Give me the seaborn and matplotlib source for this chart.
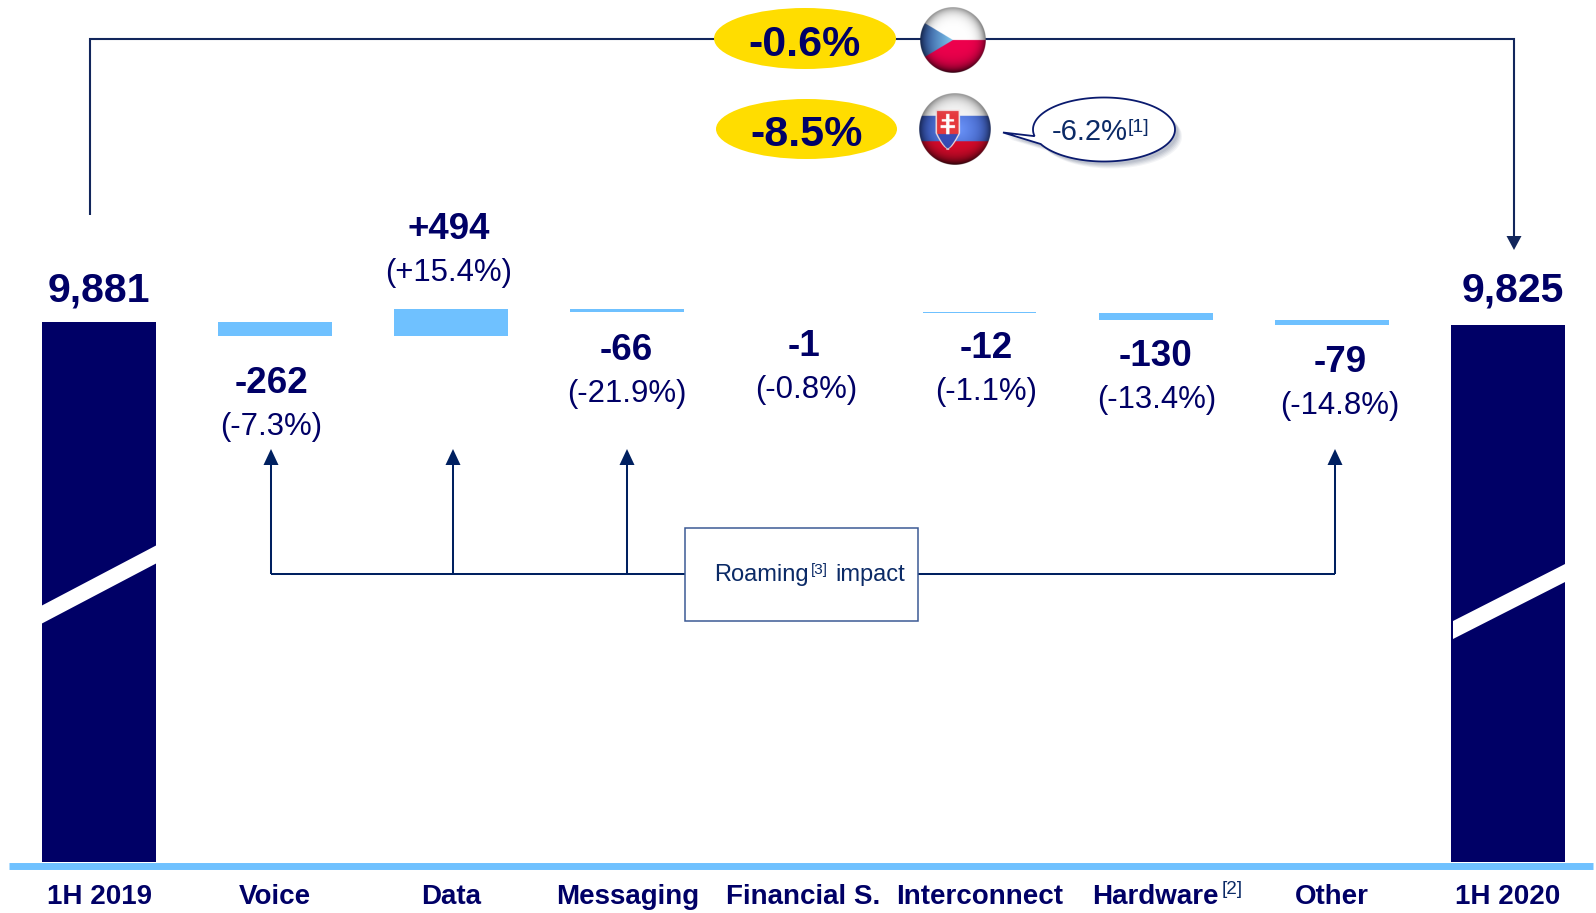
import numpy as np
import pandas as pd
import matplotlib
matplotlib.use("Agg")
import matplotlib.pyplot as plt
from matplotlib.patches import Ellipse, Polygon, Rectangle
import seaborn as sns

# Revenue bridge, 1H 2019 to 1H 2020
categories = ["1H 2019", "Voice", "Data", "Messaging", "Financial S.",
              "Interconnect", "Hardware", "Other", "1H 2020"]
start_total = 9881
end_total = 9825
delta_names = ["Voice", "Data", "Messaging", "Financial S.", "Interconnect", "Hardware", "Other"]
delta_values = [-262, 494, -66, -1, -12, -130, -79]
delta_percent = ["(-7.3%)", "(+15.4%)", "(-21.9%)", "(-0.8%)", "(-1.1%)", "(-13.4%)", "(-14.8%)"]
change_czech = "-0.6%"
change_slovakia = "-8.5%"
change_callout = "-6.2%"

NAVY = "#000066"
SKY = "#6FC1FF"
YELLOW = "#FFDD00"
LINE = "#12265C"
ARROW = "#002060"

W, H = 1596, 913
sns.set_style("white")
plt.rcParams["font.family"] = ["Liberation Sans", "DejaVu Sans"]
fig = plt.figure(figsize=(W / 100, H / 100), dpi=100, facecolor="white")

# The chart axes fill the figure; x and y scales come from the slot width and px per unit
ax = fig.add_axes([0, 0, 1, 1])
SLOT = 176.4
PER_UNIT = 0.0547
BASE_PX = 862.0
X0_PX = 11.0

tops, bottoms = [start_total], [0]
level = start_total
for d in delta_values:
    new_level = level + d
    tops.append(max(level, new_level))
    bottoms.append(min(level, new_level))
    level = new_level
tops.append(end_total)
bottoms.append(0)
frame = pd.DataFrame({"category": categories,
                      "height": np.array(tops) - np.array(bottoms),
                      "bottom": bottoms})

sns.barplot(data=frame, x="category", y="height", order=categories,
            bottom=frame["bottom"].to_numpy(), width=0.646, color=SKY,
            saturation=1, linewidth=0, ax=ax)
for i, bar in enumerate(ax.patches):
    bar.set_facecolor(NAVY if i in (0, len(categories) - 1) else SKY)
    bar.set_edgecolor("none")

ax.set_xlim(-0.5 - X0_PX / SLOT, (W - X0_PX) / SLOT - 0.5)
ax.set_ylim(-(H - BASE_PX) / PER_UNIT, BASE_PX / PER_UNIT)
ax.set_xlabel("")
ax.set_ylabel("")
ax.set_yticks([])
for side in ("left", "right", "top"):
    ax.spines[side].set_visible(False)

# Baseline with separators between the categories
axis_y = -(866.0 - BASE_PX) / PER_UNIT
spine = ax.spines["bottom"]
spine.set_position(("data", axis_y))
spine.set_linewidth(5.0)
spine.set_color(SKY)
spine.set_capstyle("butt")
spine.set_bounds(-0.5 - 2 / SLOT, ax.get_xlim()[1])
ax.set_xticks(np.arange(len(categories)))
ax.set_xticklabels(categories, fontsize=20, fontweight="bold", color=NAVY)
ax.set_xticks(np.arange(len(categories) + 1) - 0.5, minor=True)
ax.tick_params(axis="x", which="major", length=0, pad=13)
ax.tick_params(axis="x", which="minor", length=6.5, width=4.6, color=SKY, direction="out")
for label in ax.get_xticklabels():
    label.set_clip_on(False)

# Annotation layer in pixel coordinates
ov = fig.add_axes([0, 0, 1, 1], facecolor="none")
ov.set_axis_off()


def connector(xs, ys, color=ARROW, lw=1.45, z=2):
    ov.plot(xs, ys, color=color, lw=lw, solid_capstyle="butt", solid_joinstyle="miter", zorder=z)


def arrow_up(x, tip, base):
    connector([x, x], [574, base])
    ov.add_patch(Polygon([(x, tip), (x - 7.5, base), (x + 7.5, base)], closed=True,
                         facecolor=ARROW, edgecolor="none", zorder=3))


# Slanted white break across the two totals
for bar_left, bar_right, y_left, y_right in [(41, 157, 606, 545), (1453, 1569, 621, 562)]:
    ov.add_patch(Polygon([(bar_left, y_left), (bar_right, y_right),
                          (bar_right, y_right + 18), (bar_left, y_left + 18)],
                         closed=True, facecolor="white", edgecolor="none", zorder=2))

# Top connector from the first total to the last
connector([89.5, 89.5, 1514, 1514], [215, 39, 39, 237], color=LINE, lw=1.5)
ov.add_patch(Polygon([(1514, 250), (1506.5, 236), (1521.5, 236)], closed=True,
                     facecolor=LINE, edgecolor="none", zorder=3))

# Roaming bracket
connector([271, 685], [574, 574])
connector([918, 1335], [574, 574])
for x in (271, 453, 627, 1335):
    arrow_up(x, 449, 465)
ov.add_patch(Rectangle((685, 528), 233, 93, facecolor="white", edgecolor="#3C5A94", lw=1.1, zorder=3))
ov.text(714.5, 581, "Roaming", fontsize=17, color="#0B2A66", zorder=4)
ov.text(811, 574, "[3]", fontsize=11, color="#0B2A66", zorder=4)
ov.text(835, 581, "impact", fontsize=17, color="#0B2A66", zorder=4)

# Yellow country badges
for cx, cy, w, h, text, base in [(805, 38.5, 182, 61, change_czech, 56),
                                 (806.5, 129, 181, 60, change_slovakia, 146.5)]:
    ov.add_patch(Ellipse((cx, cy), w, h, facecolor=YELLOW, edgecolor="none", zorder=3))
    ov.text(cx, base, text, fontsize=31, fontweight="bold", color=NAVY, ha="center", zorder=4)


def sphere_flag(kind, n=300):
    axis = np.linspace(-1, 1, n)
    u, v = np.meshgrid(axis, axis)
    r = np.hypot(u, v)
    img = np.ones((n, n, 3))
    if kind == "cz":
        img[v >= 0] = (0.93, 0.0, 0.30)
        img[v < 0] = (1.0, 1.0, 1.0)
        tri = (u < 0) & (np.abs(v) < -u * 0.6)
        t = np.clip(1 + u, 0, 1)[..., None]
        blue = (1 - t) * np.array([0.17, 0.30, 0.60]) + t * np.array([0.50, 0.78, 0.93])
        img[tri] = blue[tri]
    else:
        img[v < -0.37] = (0.96, 0.96, 0.96)
        mid = (v >= -0.37) & (v < 0.34)
        t = np.clip(1 - np.hypot(u - 0.1, v) / 1.1, 0, 1)[..., None]
        blue = (1 - t) * np.array([0.20, 0.32, 0.70]) + t * np.array([0.42, 0.58, 0.98])
        img[mid] = blue[mid]
        img[v >= 0.34] = (0.85, 0.04, 0.17)
        half = 0.30 * np.where(v > 0.12, np.clip((0.54 - v) / 0.42, 0, 1) ** 0.7, 1.0)
        su = u + 0.20
        shield = (np.abs(su) < half) & (v > -0.50) & (v < 0.54)
        rim = (np.abs(su) < half + 0.04) & (v > -0.54) & (v < 0.58)
        img[rim] = (0.96, 0.90, 0.90)
        img[shield] = (0.90, 0.22, 0.24)
        img[shield & (v > 0.14)] = (0.22, 0.30, 0.72)
        cross = ((np.abs(su) < 0.045) & (v > -0.42) & (v < 0.15)) | \
                ((np.abs(su) < 0.17) & (np.abs(v + 0.24) < 0.035)) | \
                ((np.abs(su) < 0.20) & (np.abs(v + 0.07) < 0.04))
        img[shield & cross] = (1, 1, 1)
    # Darken toward the rim, gloss the top
    shade = 1 - 0.55 * np.clip(r, 0, 1) ** 6 - 0.28 * np.clip(v, 0, 1) ** 3
    img = img * shade[..., None]
    gloss = np.clip(-v - 0.35, 0, 1)[..., None] * 0.35
    img = img * (1 - gloss) + gloss
    alpha = np.clip((1 - r) * n / 2, 0, 1)
    return np.dstack([np.clip(img, 0, 1), alpha])


for kind, cx, cy, radius in [("cz", 953, 40, 33), ("sk", 954.5, 129, 36)]:
    ov.imshow(sphere_flag(kind), extent=(cx - radius, cx + radius, cy + radius, cy - radius),
              aspect="auto", zorder=4, interpolation="antialiased")

# Speech bubble beside the Slovak flag
theta = np.linspace(np.deg2rad(168), np.deg2rad(168 + 345), 160)
bx = 1104 + 71 * np.cos(theta)
by = 129.5 + 32 * np.sin(theta)
outline = np.vstack([np.column_stack([bx, by]), [1003, 132.5]])
for offset, alpha in [(7, 0.05), (6, 0.06), (5, 0.07), (4, 0.08), (3, 0.08)]:
    ov.add_patch(Polygon(outline + [offset, offset], closed=True, facecolor="#20305A",
                         edgecolor="none", alpha=alpha, zorder=3))
ov.add_patch(Polygon(outline, closed=True, facecolor="white", edgecolor="#0A1A6E", lw=1.3, zorder=4))
ov.text(1051.5, 139.5, change_callout, fontsize=21, color="#0B2A66", zorder=5)
ov.text(1128, 132, "[1]", fontsize=14, color="#0B2A66", zorder=5)

# Totals above the dark bars
ov.text(99, 302, f"{start_total:,}", fontsize=29.5, fontweight="bold", color=NAVY, ha="center", zorder=4)
ov.text(1513, 302, f"{end_total:,}", fontsize=29.5, fontweight="bold", color=NAVY, ha="center", zorder=4)

# Change labels for each category
value_x = [271, 448.5, 626, 804, 986, 1156, 1340]
value_base = [393, 239, 360, 356, 358, 366.5, 372.5]
percent_x = [271, 448.5, 626.5, 806, 986, 1157, 1340]
percent_base = [435, 281, 402, 398, 400, 408, 414]
for name, d, pct, vx, vb, px, pb in zip(delta_names, delta_values, delta_percent,
                                        value_x, value_base, percent_x, percent_base):
    ov.text(vx, vb, f"{d:+d}", fontsize=26.5, fontweight="bold", color=NAVY, ha="center", zorder=4)
    ov.text(px, pb, pct, fontsize=22.4, color=NAVY, ha="center", zorder=4)

# Footnote mark on the Hardware label
ov.text(1221.5, 894, "[2]", fontsize=13.6, color="#0B2A66", zorder=4)

ov.set_xlim(0, W)
ov.set_ylim(H, 0)

fig.savefig("out.png", dpi=100)
